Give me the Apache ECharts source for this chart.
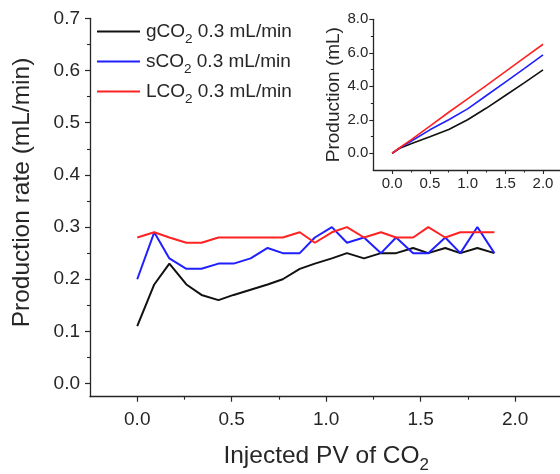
<!DOCTYPE html>
<html>
<head>
<meta charset="utf-8">
<script src="https://cdn.jsdelivr.net/npm/echarts@6/dist/echarts.min.js"></script>
<style>
  html, body { margin: 0; padding: 0; background: #fff; }
  #chart { width: 560px; height: 474px; }
</style>
</head>
<body>
<div id="chart"></div>
<script>
// Injected pore volumes at which the production rate was sampled
const injectedPV = [0, 0.09, 0.17, 0.26, 0.34, 0.43, 0.51, 0.60, 0.69, 0.77, 0.86, 0.94,
                    1.03, 1.11, 1.20, 1.29, 1.37, 1.46, 1.54, 1.63, 1.71, 1.80, 1.89];

// Production rate (mL/min) for each CO2 phase
const rateGas = [0.11, 0.19, 0.23, 0.19, 0.17, 0.16, 0.17, 0.18, 0.19, 0.20, 0.22, 0.23,
                 0.24, 0.25, 0.24, 0.25, 0.25, 0.26, 0.25, 0.26, 0.25, 0.26, 0.25];
const rateSuper = [0.20, 0.29, 0.24, 0.22, 0.22, 0.23, 0.23, 0.24, 0.26, 0.25, 0.25, 0.28,
                   0.30, 0.27, 0.28, 0.25, 0.28, 0.25, 0.25, 0.28, 0.25, 0.30, 0.25];
const rateLiquid = [0.28, 0.29, 0.28, 0.27, 0.27, 0.28, 0.28, 0.28, 0.28, 0.28, 0.29, 0.27,
                    0.29, 0.30, 0.28, 0.29, 0.28, 0.28, 0.30, 0.28, 0.29, 0.29, 0.29];

// Cumulative production (mL) for the inset
const cumPV = [0, 0.1, 0.25, 0.5, 0.75, 1.0, 1.25, 1.5, 1.75, 2.0];
const cumGas = [0, 0.30, 0.57, 0.98, 1.42, 2.0, 2.70, 3.45, 4.20, 4.98];
const cumSuper = [0, 0.32, 0.72, 1.40, 2.00, 2.65, 3.45, 4.25, 5.05, 5.87];
const cumLiquid = [0, 0.33, 0.80, 1.62, 2.45, 3.25, 4.05, 4.87, 5.70, 6.51];

const seriesNames = ['gCO2 0.3 mL/min', 'sCO2 0.3 mL/min', 'LCO2 0.3 mL/min'];
const seriesColors = ['#111111', '#1f1fff', '#ff2222'];

// Tick positions
const mainXTicks = [0, 0.5, 1.0, 1.5, 2.0];
const mainXMinor = [0.25, 0.75, 1.25, 1.75];
const mainYTicks = [0, 0.1, 0.2, 0.3, 0.4, 0.5, 0.6, 0.7];
const mainYMinor = [0.05, 0.15, 0.25, 0.35, 0.45, 0.55, 0.65];
const insetXTicks = [0, 0.5, 1.0, 1.5, 2.0];
const insetXMinor = [0.25, 0.75, 1.25, 1.75];
const insetYTicks = [0, 2, 4, 6, 8];
const insetYMinor = [1, 3, 5, 7];

const FONT = "'Liberation Sans', Arial, sans-serif";
const INK = '#262626';

function pairs(xs, ys) { return xs.map((x, i) => [x, ys[i]]); }

// Wrap the "2" of CO2 as a subscript rich-text token
function subCO2(text, normalStyle, subStyle) {
  return text.split('CO2').map(p => p ? '{' + normalStyle + '|' + p + '}' : '')
             .join('{' + normalStyle + '|CO}{' + subStyle + '|2}');
}

function majorAxis(extra) {
  return Object.assign({
    type: 'value',
    splitLine: { show: false },
    axisLine: { show: true, onZero: false, lineStyle: { color: INK, width: 1.3 } },
    axisTick: { show: true, inside: false, lineStyle: { color: INK, width: 1.2 } },
    axisLabel: { color: INK, fontFamily: FONT, formatter: v => v.toFixed(1) }
  }, extra);
}

function minorAxis(extra) {
  return Object.assign({
    type: 'value',
    splitLine: { show: false },
    axisLine: { show: false, onZero: false },
    axisLabel: { show: false },
    axisTick: { show: true, inside: false, length: 3, lineStyle: { color: INK, width: 1.1 } }
  }, extra);
}

const chart = echarts.init(document.getElementById('chart'), null, { renderer: 'canvas' });

const option = {
  backgroundColor: '#fff',
  animation: false,
  grid: [
    { left: 90, top: 18.3, width: 472.4, height: 378.4, outerBoundsMode: 'none', containLabel: false },
    { left: 373.3, top: 19.3, width: 188.6, height: 150.7, outerBoundsMode: 'none', containLabel: false }
  ],
  xAxis: [
    majorAxis({
      gridIndex: 0, position: 'bottom', min: -0.25, max: 2.25,
      name: subCO2('Injected PV of CO2', 't', 'ts'),
      nameLocation: 'middle', nameGap: 47,
      nameTextStyle: {
        color: INK, fontFamily: FONT,
        rich: {
          t: { fontSize: 24.5, lineHeight: 25, verticalAlign: 'top', fontFamily: FONT, color: INK },
          ts: { fontSize: 17, lineHeight: 17, padding: [13, 0, 0, 0], verticalAlign: 'top', fontFamily: FONT, color: INK }
        }
      },
      axisTick: { show: true, length: 5, customValues: mainXTicks, lineStyle: { color: INK, width: 1.2 } },
      axisLabel: { color: INK, fontFamily: FONT, fontSize: 19, margin: 13.5, customValues: mainXTicks, formatter: v => v.toFixed(1) }
    }),
    minorAxis({ gridIndex: 0, position: 'bottom', min: -0.25, max: 2.25,
      axisTick: { show: true, length: 3, customValues: mainXMinor, lineStyle: { color: INK, width: 1.1 } } }),
    majorAxis({
      gridIndex: 1, position: 'bottom', min: -0.25, max: 2.25,
      axisTick: { show: true, length: 4, customValues: insetXTicks, lineStyle: { color: INK, width: 1.1 } },
      axisLabel: { color: INK, fontFamily: FONT, fontSize: 15, margin: 6, customValues: insetXTicks, formatter: v => v.toFixed(1) }
    }),
    minorAxis({ gridIndex: 1, position: 'bottom', min: -0.25, max: 2.25,
      axisTick: { show: true, length: 2.5, customValues: insetXMinor, lineStyle: { color: INK, width: 1 } } })
  ],
  yAxis: [
    majorAxis({
      gridIndex: 0, position: 'left', min: -0.025, max: 0.7,
      name: 'Production rate (mL/min)',
      nameLocation: 'middle', nameGap: 55,
      nameTextStyle: { color: INK, fontFamily: FONT, fontSize: 24.5, padding: [0, 0, 0, 30] },
      axisTick: { show: true, length: 5, customValues: mainYTicks, lineStyle: { color: INK, width: 1.2 } },
      axisLabel: { color: INK, fontFamily: FONT, fontSize: 19, margin: 10, customValues: mainYTicks, formatter: v => v.toFixed(1) }
    }),
    minorAxis({ gridIndex: 0, position: 'left', min: -0.025, max: 0.7,
      axisTick: { show: true, length: 3, customValues: mainYMinor, lineStyle: { color: INK, width: 1.1 } } }),
    majorAxis({
      gridIndex: 1, position: 'left', min: -1, max: 8,
      name: 'Production (mL)',
      nameLocation: 'middle', nameGap: 28,
      nameTextStyle: { color: INK, fontFamily: FONT, fontSize: 19 },
      axisTick: { show: true, length: 4, customValues: insetYTicks, lineStyle: { color: INK, width: 1.1 } },
      axisLabel: { color: INK, fontFamily: FONT, fontSize: 15, margin: 5, customValues: insetYTicks, formatter: v => v.toFixed(1) }
    }),
    minorAxis({ gridIndex: 1, position: 'left', min: -1, max: 8,
      axisTick: { show: true, length: 2.5, customValues: insetYMinor, lineStyle: { color: INK, width: 1 } } })
  ],
  legend: {
    orient: 'vertical',
    left: 97, top: 22, padding: 0,
    icon: 'rect',
    itemWidth: 43, itemHeight: 2, itemGap: 6,
    data: seriesNames,
    formatter: name => subCO2(name, 'n', 's'),
    textStyle: {
      color: INK, fontFamily: FONT, padding: [0, 0, 0, 1],
      rich: {
        n: { fontSize: 19, lineHeight: 19, verticalAlign: 'top', fontFamily: FONT, color: INK },
        s: { fontSize: 13.5, lineHeight: 13, padding: [10, 0, 0, 0], verticalAlign: 'top', fontFamily: FONT, color: INK }
      }
    }
  },
  series: [
    { name: seriesNames[0], type: 'line', xAxisIndex: 0, yAxisIndex: 0, data: pairs(injectedPV, rateGas) },
    { name: seriesNames[1], type: 'line', xAxisIndex: 0, yAxisIndex: 0, data: pairs(injectedPV, rateSuper) },
    { name: seriesNames[2], type: 'line', xAxisIndex: 0, yAxisIndex: 0, data: pairs(injectedPV, rateLiquid) },
    { name: seriesNames[0], type: 'line', xAxisIndex: 2, yAxisIndex: 2, data: pairs(cumPV, cumGas) },
    { name: seriesNames[1], type: 'line', xAxisIndex: 2, yAxisIndex: 2, data: pairs(cumPV, cumSuper) },
    { name: seriesNames[2], type: 'line', xAxisIndex: 2, yAxisIndex: 2, data: pairs(cumPV, cumLiquid) }
  ].map((s, i) => Object.assign(s, {
    symbol: 'none',
    color: seriesColors[i % 3],
    lineStyle: { width: i < 3 ? 2 : 1.6, color: seriesColors[i % 3] }
  }))
};

chart.setOption(option);
</script>
</body>
</html>
